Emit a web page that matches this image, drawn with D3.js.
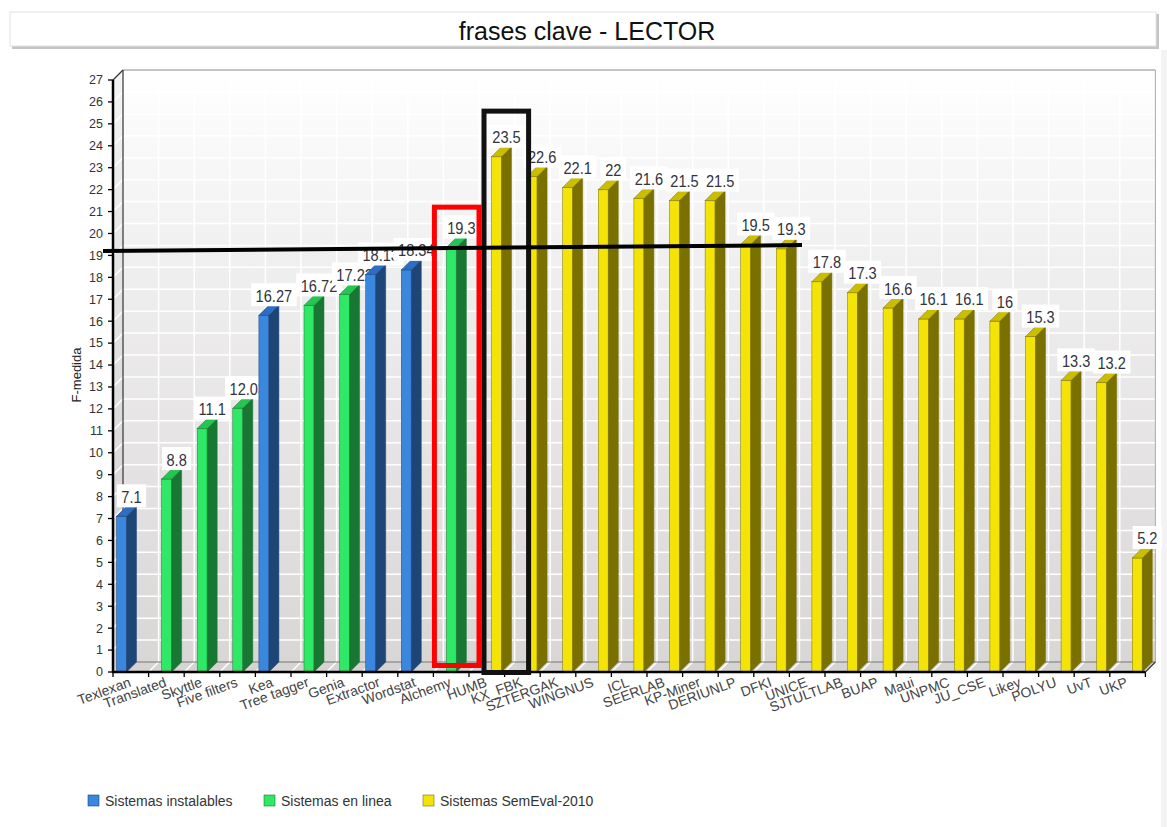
<!DOCTYPE html>
<html><head><meta charset="utf-8">
<script src="https://cdn.jsdelivr.net/npm/d3@7"></script>
<style>html,body{margin:0;padding:0;background:#fff;} svg{display:block;font-family:"Liberation Sans",Arial,sans-serif;}</style>
</head><body><svg id="c" width="1167" height="827"></svg>
<script>
// ---------- data ----------
const categories = ["Texlexan","Translated","Skyttle","Five filters","Kea","Tree tagger","Genia","Extractor","Wordstat","Alchemy",
  "HUMB","KX_FBK","SZTERGAK","WINGNUS","ICL","SEERLAB","KP-Miner","DERIUNLP","DFKI","UNICE","SJTULTLAB","BUAP","Maui",
  "UNPMC","JU_CSE","Likey","POLYU","UvT","UKP"];
const values = [7.1,8.8,11.1,12.03,16.27,16.72,17.22,18.13,18.34,19.36,
  23.5,22.6,22.1,22,21.6,21.5,21.5,19.5,19.3,17.8,17.3,16.6,16.1,16.1,16,15.3,13.3,13.2,5.2];
const valueLabels = ["7.1","8.8","11.1","12.03","16.27","16.72","17.22","18.13","18.34","19.3",
  "23.5","22.6","22.1","22","21.6","21.5","21.5","19.5","19.3","17.8","17.3","16.6","16.1","16.1","16","15.3","13.3","13.2","5.2"];
const seriesIndex = [0,1,1,1,0,1,1,0,0,1, 2,2,2,2,2,2,2,2,2,2,2,2,2,2,2,2,2,2,2];
const seriesNames = ["Sistemas instalables","Sistemas en linea","Sistemas SemEval-2010"];
const seriesFront = ["#3a87e0","#2ee866","#f3e307"];
const seriesSide  = ["#1d4576","#187833","#7a7000"];
const seriesTop   = ["#2d6ec4","#22c651","#cbbd00"];
const yTicks = [0,1,2,3,4,5,6,7,8,9,10,11,12,13,14,15,16,17,18,19,20,21,22,23,24,25,26,27];
const title = "frases clave - LECTOR";
const yTitle = "F-medida";

// ---------- setup ----------
const W=1167,H=827,D=10,barW=10;
const svg=d3.select("#c");
const x=d3.scaleBand().domain(categories).range([113,1145.4]).padding(0);
const xs=d3.scaleBand().domain([0,1,2]).range([3.5,32]);
const y=d3.scaleLinear().domain([0,27]).range([672,80]);
const X0=x.range()[0], X1=x.range()[1], Y0=y(0), YT=y(27), step=x.step();

const defs=svg.append("defs");
const g1=defs.append("linearGradient").attr("id","wall").attr("x1",0).attr("y1",0).attr("x2",0).attr("y2",1);
g1.append("stop").attr("offset","0%").attr("stop-color","#ffffff");
g1.append("stop").attr("offset","35%").attr("stop-color","#efeeee");
g1.append("stop").attr("offset","100%").attr("stop-color","#d9d6d6");

// right strip of panel
svg.append("rect").attr("x",1161).attr("y",50).attr("width",6).attr("height",H-50).attr("fill","#f3f3f3");

// title box
svg.append("rect").attr("x",12).attr("y",14).attr("width",1147).attr("height",35).attr("fill","#c4c4c4");
svg.append("rect").attr("x",10).attr("y",12).attr("width",1146).attr("height",34).attr("fill","#fff").attr("stroke","#e2e2e2");
svg.append("text").attr("x",587).attr("y",40).attr("text-anchor","middle").attr("font-size",25).attr("fill","#111").text(title);

// back wall
svg.append("rect").attr("x",X0+D).attr("y",YT-D).attr("width",X1-X0).attr("height",Y0-YT).attr("fill","url(#wall)");
// left wall
svg.append("polygon").attr("points",[[X0,YT],[X0+D,YT-D],[X0+D,Y0-D],[X0,Y0]].join(" ")).attr("fill","url(#wall)");
svg.append("polygon").attr("points",[[X0,YT],[X0+D,YT-D],[X0+D,Y0-D],[X0,Y0]].join(" ")).attr("fill","rgba(0,0,0,0.04)");
// grid lines
const grid=svg.append("g").attr("stroke","#fff").attr("stroke-width",1.5);
yTicks.filter(t=>t>0&&t<27).forEach(t=>{
  grid.append("line").attr("x1",X0+D).attr("x2",X1+D).attr("y1",y(t)-D).attr("y2",y(t)-D);
  grid.append("line").attr("x1",X0).attr("x2",X0+D).attr("y1",y(t)).attr("y2",y(t)-D);
});
for(let k=1;k<categories.length;k++){
  const xx=X0+k*step;
  grid.append("line").attr("x1",xx+D).attr("x2",xx+D).attr("y1",YT-D).attr("y2",Y0-D);
}
// floor
svg.append("polygon").attr("points",[[X0,Y0],[X0+D,Y0-D],[X1+D,Y0-D],[X1,Y0]].join(" ")).attr("fill","#d6d3d3");
const fl=svg.append("g").attr("stroke","#fff").attr("stroke-width",1.5);
for(let k=1;k<categories.length;k++){
  const xx=X0+k*step;
  fl.append("line").attr("x1",xx).attr("x2",xx+D).attr("y1",Y0).attr("y2",Y0-D);
}
// wall edges
const ed=svg.append("g").attr("fill","none");
ed.append("line").attr("x1",X0+D).attr("x2",X0+D).attr("y1",YT-D).attr("y2",Y0-D).attr("stroke","#333").attr("stroke-width",1.2);
ed.append("line").attr("x1",X0+D).attr("x2",X1+D).attr("y1",YT-D).attr("y2",YT-D).attr("stroke","#888").attr("stroke-width",1);
ed.append("line").attr("x1",X1+D).attr("x2",X1+D).attr("y1",YT-D).attr("y2",Y0-D).attr("stroke","#aaa").attr("stroke-width",1);
ed.append("line").attr("x1",X0).attr("x2",X0+D).attr("y1",YT).attr("y2",YT-D).attr("stroke","#333").attr("stroke-width",1.2);
ed.append("line").attr("x1",X0+D).attr("x2",X1+D).attr("y1",Y0-D).attr("y2",Y0-D).attr("stroke","#777").attr("stroke-width",1);
ed.append("line").attr("x1",X1).attr("x2",X1+D).attr("y1",Y0).attr("y2",Y0-D).attr("stroke","#333").attr("stroke-width",1.2);

// ---------- bars + labels ----------
const SX=0.86;
const bars=svg.append("g");
categories.forEach((c,i)=>{
  const s=seriesIndex[i], v=values[i];
  const bx=x(c)+xs(s), yv=y(v);
  const g=bars.append("g");
  g.append("rect").attr("x",bx).attr("y",yv).attr("width",barW).attr("height",Y0-yv)
    .attr("fill",seriesFront[s]).attr("stroke",seriesSide[s]).attr("stroke-width",0.5);
  g.append("polygon").attr("points",[[bx+barW,yv],[bx+barW+D,yv-D],[bx+barW+D,Y0-D],[bx+barW,Y0]].join(" "))
    .attr("fill",seriesSide[s]).attr("stroke",seriesSide[s]).attr("stroke-width",0.5);
  g.append("polygon").attr("points",[[bx,yv],[bx+D,yv-D],[bx+barW+D,yv-D],[bx+barW,yv]].join(" "))
    .attr("fill",seriesTop[s]).attr("stroke",seriesSide[s]).attr("stroke-width",0.5);
  const cx=bx+barW/2+D, boxB=yv-D+1;
  const t=g.append("text").attr("transform",`translate(${cx},${boxB-4.5}) scale(${SX},1)`).attr("text-anchor","middle")
    .attr("font-size",17).attr("fill","#333340").text(valueLabels[i]);
  const tw=t.node().getComputedTextLength()*SX;
  g.insert("rect","text").attr("x",cx-tw/2-4.5).attr("y",boxB-23).attr("width",tw+9).attr("height",23).attr("fill","#fff");
});

// ---------- axes ----------
const ax=svg.append("g");
ax.append("line").attr("x1",X0).attr("x2",X0).attr("y1",YT).attr("y2",Y0+1).attr("stroke","#000").attr("stroke-width",2.5);
ax.append("line").attr("x1",X0-1).attr("x2",X1).attr("y1",Y0).attr("y2",Y0).attr("stroke","#000").attr("stroke-width",2.5);
yTicks.forEach(t=>{
  ax.append("line").attr("x1",X0-5).attr("x2",X0).attr("y1",y(t)).attr("y2",y(t)).attr("stroke","#000").attr("stroke-width",1.3);
  ax.append("text").attr("x",X0-10).attr("y",y(t)).attr("dy","0.35em").attr("text-anchor","end")
    .attr("font-size",12.5).attr("fill","#333").text(t);
});
for(let k=0;k<=categories.length;k++){
  const xx=X0+k*step;
  ax.append("line").attr("x1",xx).attr("x2",xx).attr("y1",Y0).attr("y2",Y0+5).attr("stroke","#000").attr("stroke-width",1.3);
}
categories.forEach(c=>{
  const cx=x(c)+x.bandwidth()/2+1;
  ax.append("text").attr("transform",`translate(${cx},686) rotate(-20)`).attr("text-anchor","end")
    .attr("font-size",14).attr("fill","#444").text(c);
});
svg.append("text").attr("transform","translate(81,375) rotate(-90)").attr("text-anchor","middle")
  .attr("font-size",13).attr("fill","#222").text(yTitle);

// ---------- annotations ----------
svg.append("rect").attr("x",x("Alchemy")+1).attr("y",y(21.2))
  .attr("width",x.bandwidth()+9).attr("height",(Y0-6.5)-y(21.2))
  .attr("fill","none").attr("stroke","#ff0000").attr("stroke-width",5);
svg.append("rect").attr("x",x("HUMB")+15).attr("y",y(25.58))
  .attr("width",(x("KX_FBK")+24)-(x("HUMB")+15)).attr("height",(Y0+0.5)-y(25.58))
  .attr("fill","none").attr("stroke","#111").attr("stroke-width",5);
svg.append("line").attr("x1",X0-10).attr("y1",y(19.2)).attr("x2",x("DFKI")+x.bandwidth()+12.6).attr("y2",y(19.47))
  .attr("stroke","#000").attr("stroke-width",4);

// ---------- legend ----------
const legX=[88,264,423];
const lg=svg.append("g");
seriesNames.forEach((n,i)=>{
  lg.append("rect").attr("x",legX[i]).attr("y",795).attr("width",11).attr("height",11)
    .attr("fill",seriesFront[i]).attr("stroke",seriesSide[i]).attr("stroke-width",0.6);
  lg.append("text").attr("x",legX[i]+17).attr("y",805.5).attr("font-size",14).attr("fill","#333").text(n);
});
</script></body></html>
